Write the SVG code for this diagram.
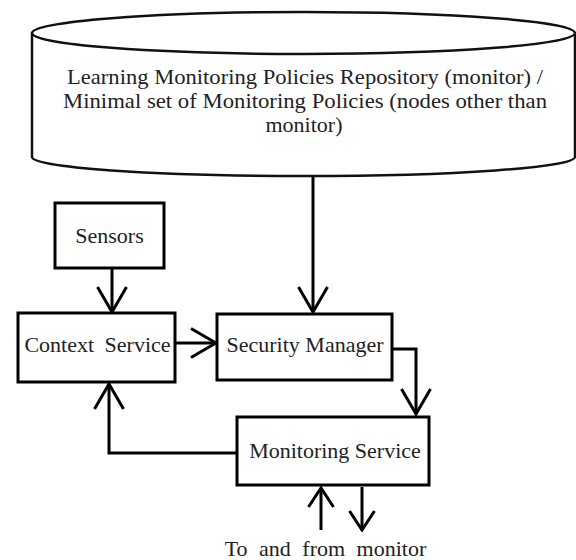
<svg xmlns="http://www.w3.org/2000/svg" width="576" height="560" viewBox="0 0 576 560">
  <style>
    .box { fill: #ffffff; stroke: #000000; stroke-width: 3; }
    .cyl { fill: #ffffff; stroke: #111111; stroke-width: 2.5; }
    .lbl { font-family: "Liberation Serif", "Times New Roman", serif; font-size: 22px; fill: #222222; text-anchor: middle; }
    .conn { fill: none; stroke: #000000; stroke-width: 3; }
  </style>
  <defs>
    <marker id="arrow" viewBox="0 0 28 32" refX="26" refY="16" markerWidth="28" markerHeight="32" markerUnits="userSpaceOnUse" orient="auto">
      <path d="M1,1.5 L26,16 L1,30.5" fill="none" stroke="#000" stroke-width="3"/>
    </marker>
    <marker id="arrowSmall" viewBox="0 0 22 28" refX="20" refY="14" markerWidth="22" markerHeight="28" markerUnits="userSpaceOnUse" orient="auto">
      <path d="M1,1.5 L20,14 L1,26.5" fill="none" stroke="#000" stroke-width="3"/>
    </marker>
  </defs>
  <rect x="0" y="0" width="576" height="560" fill="#ffffff"/>

  <g id="repository">
    <path class="cyl" d="M32,33 L32,157 A271.5,19 0 0 0 575,157 L575,33"/>
    <ellipse class="cyl" cx="303.5" cy="33" rx="271.5" ry="21"/>
    <text class="lbl" x="305" y="84" textLength="476" lengthAdjust="spacingAndGlyphs">Learning Monitoring Policies Repository (monitor) /</text>
    <text class="lbl" x="305" y="108" textLength="484" lengthAdjust="spacingAndGlyphs">Minimal set of Monitoring Policies (nodes other than</text>
    <text class="lbl" x="304" y="132">monitor)</text>
  </g>

  <g id="sensors">
    <rect class="box" x="55" y="203" width="109" height="65"/>
    <text class="lbl" x="109.5" y="243">Sensors</text>
  </g>

  <g id="context-service">
    <rect class="box" x="18" y="313" width="157" height="69"/>
    <text class="lbl" x="97.5" y="352" word-spacing="5">Context Service</text>
  </g>

  <g id="security-manager">
    <rect class="box" x="217" y="314" width="175" height="66"/>
    <text class="lbl" x="305" y="352">Security Manager</text>
  </g>

  <g id="monitoring-service">
    <rect class="box" x="237" y="417" width="192" height="68"/>
    <text class="lbl" x="335" y="458">Monitoring Service</text>
  </g>

  <g id="to-from-monitor">
    <text class="lbl" x="325.5" y="556" word-spacing="6">To and from monitor</text>
  </g>

  <g id="connectors">
    <path class="conn" d="M313,176 L313,312" marker-end="url(#arrow)"/>
    <path class="conn" d="M112,268 L112,312" marker-end="url(#arrow)"/>
    <path class="conn" d="M175,343 L216,343" marker-end="url(#arrow)"/>
    <path class="conn" d="M392,349 L416,349 L416,414" marker-end="url(#arrow)"/>
    <path class="conn" d="M237,453 L109,453 L109,384" marker-end="url(#arrow)"/>
    <path class="conn" d="M321,530 L321,488" marker-end="url(#arrowSmall)"/>
    <path class="conn" d="M362,487 L362,530" marker-end="url(#arrowSmall)"/>
  </g>
</svg>
